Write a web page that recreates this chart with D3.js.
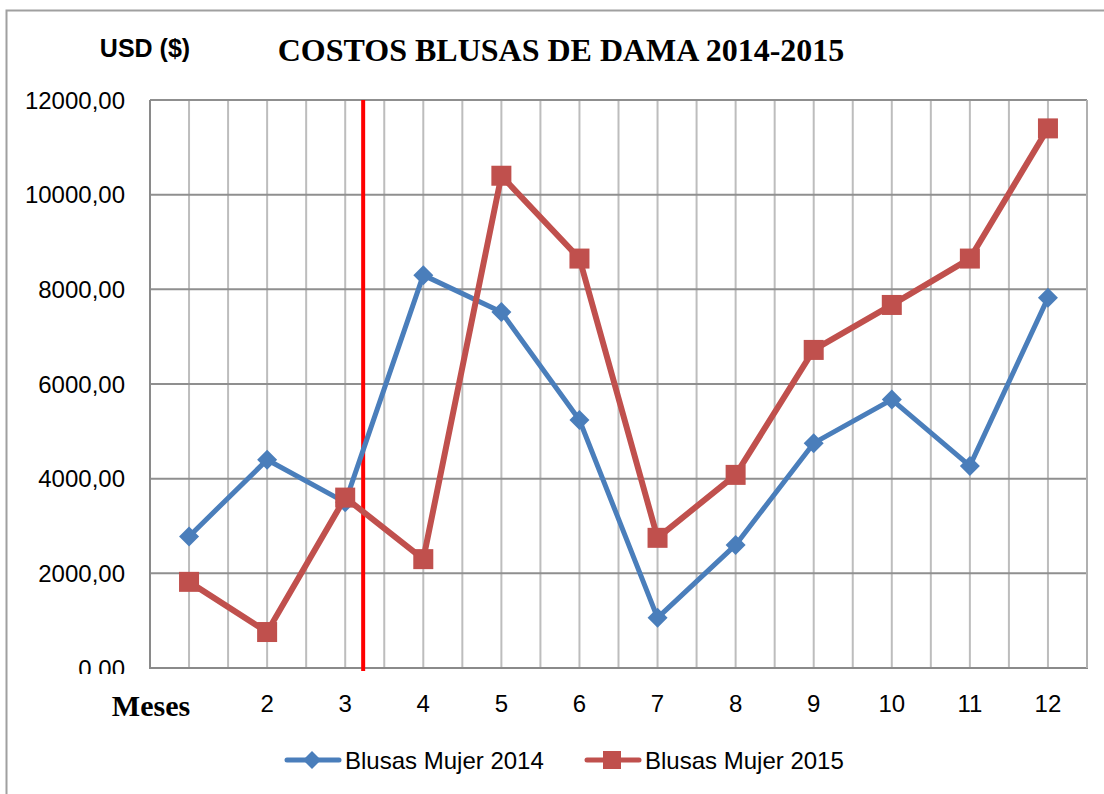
<!DOCTYPE html>
<html><head><meta charset="utf-8">
<script src="https://cdn.jsdelivr.net/npm/d3@7"></script>
<style>body{margin:0;background:#fff}svg{display:block}</style>
</head><body>
<svg id="c" width="1104" height="794"></svg>
<script>
const months = [1,2,3,4,5,6,7,8,9,10,11,12];
const monthLabels = ["","2","3","4","5","6","7","8","9","10","11","12"];
const serie2014 = [2780,4400,3500,8300,7520,5240,1060,2600,4750,5670,4270,7820];
const serie2015 = [1820,760,3600,2300,10400,8650,2750,4080,6720,7670,8650,11400];
const yTicks = [0,2000,4000,6000,8000,10000,12000];
const yTickLabels = ["0,00","2000,00","4000,00","6000,00","8000,00","10000,00","12000,00"];
const seriesNames = ["Blusas Mujer 2014","Blusas Mujer 2015"];
const markerLine = 3.23;

const svg = d3.select("#c");
const L=150,R=1087,T=100,B=668;
const x = d3.scaleLinear().domain([0.5,12.5]).range([L,R]);
const y = d3.scaleLinear().domain([0,12000]).range([B,T]);
const sans = "Liberation Sans, Arial, sans-serif";
const serif = "Liberation Serif, Times New Roman, serif";

// outer frame
svg.append("rect").attr("x",6.5).attr("y",10.5).attr("width",1200).attr("height",900)
  .attr("fill","none").attr("stroke","#a0a0a0").attr("stroke-width",2);

// vertical grid (every half category)
const vg = d3.range(0.5,12.51,0.5);
svg.append("g").selectAll("line").data(vg).join("line")
  .attr("x1",d=>x(d)).attr("x2",d=>x(d)).attr("y1",T).attr("y2",B)
  .attr("stroke","#bdbdbd").attr("stroke-width",2);
// horizontal grid
svg.append("g").selectAll("line").data(yTicks).join("line")
  .attr("x1",L).attr("x2",R).attr("y1",d=>y(d)).attr("y2",d=>y(d))
  .attr("stroke","#8f8f8f").attr("stroke-width",2);
// axes lines
svg.append("line").attr("x1",L).attr("x2",L).attr("y1",T).attr("y2",B).attr("stroke","#8a8a8a").attr("stroke-width",2);
svg.append("line").attr("x1",L-1).attr("x2",R+1).attr("y1",B).attr("y2",B).attr("stroke","#8a8a8a").attr("stroke-width",2);
svg.append("line").attr("x1",R).attr("x2",R).attr("y1",T).attr("y2",B).attr("stroke","#b0b0b0").attr("stroke-width",2);

// y labels
svg.append("defs").append("clipPath").attr("id","clipY").append("rect")
  .attr("x",0).attr("y",0).attr("width",140).attr("height",674);
svg.append("g").attr("clip-path","url(#clipY)").selectAll("text").data(yTicks).join("text")
  .attr("x",125).attr("y",d=>y(d)).attr("text-anchor","end").attr("dominant-baseline","central")
  .attr("font-family",sans).attr("font-size",24).attr("fill","#000")
  .text((d,i)=>yTickLabels[i]);
// x labels
svg.append("g").selectAll("text").data(months).join("text")
  .attr("x",d=>x(d)).attr("y",703).attr("text-anchor","middle").attr("dominant-baseline","central")
  .attr("font-family",sans).attr("font-size",24).attr("fill","#000")
  .text((d,i)=>monthLabels[i]);

svg.append("text").attr("x",151).attr("y",705).attr("text-anchor","middle").attr("dominant-baseline","central")
  .attr("font-family",serif).attr("font-weight","bold").attr("font-size",30)
  .text("Meses");
svg.append("text").attr("x",145).attr("y",48).attr("text-anchor","middle").attr("dominant-baseline","central")
  .attr("font-family",sans).attr("font-weight","bold").attr("font-size",25)
  .text("USD ($)");
svg.append("text").attr("x",561).attr("y",50).attr("text-anchor","middle").attr("dominant-baseline","central")
  .attr("font-family",serif).attr("font-weight","bold").attr("font-size",32)
  .text("COSTOS BLUSAS DE DAMA 2014-2015");

// red vertical marker
svg.append("line").attr("x1",x(markerLine)).attr("x2",x(markerLine)).attr("y1",T).attr("y2",B+3)
  .attr("stroke","#ff0000").attr("stroke-width",4);

const line = d3.line().x((d,i)=>x(months[i])).y(d=>y(d));
const blue="#4a7ebb", red="#c0504d";
svg.append("path").datum(serie2014).attr("d",line).attr("fill","none").attr("stroke",blue).attr("stroke-width",5).attr("stroke-linejoin","round");
svg.append("g").selectAll("path").data(serie2014).join("path")
  .attr("d","M0,-10L10,0L0,10L-10,0Z")
  .attr("transform",(d,i)=>`translate(${x(months[i])},${y(d)})`).attr("fill",blue);
svg.append("path").datum(serie2015).attr("d",line).attr("fill","none").attr("stroke",red).attr("stroke-width",6).attr("stroke-linejoin","round");
svg.append("g").selectAll("rect").data(serie2015).join("rect")
  .attr("x",(d,i)=>x(months[i])-10).attr("y",d=>y(d)-10).attr("width",20).attr("height",20).attr("fill",red);

// legend
const lg = svg.append("g");
lg.append("line").attr("x1",287).attr("x2",339).attr("y1",760).attr("y2",760).attr("stroke",blue).attr("stroke-width",5).attr("stroke-linecap","round");
lg.append("path").attr("d","M0,-9L9,0L0,9L-9,0Z").attr("transform","translate(312,760)").attr("fill",blue);
lg.append("text").attr("x",345).attr("y",760).attr("dominant-baseline","central")
  .attr("font-family",sans).attr("font-size",24).text(seriesNames[0]);
lg.append("line").attr("x1",587).attr("x2",639).attr("y1",760).attr("y2",760).attr("stroke",red).attr("stroke-width",5).attr("stroke-linecap","round");
lg.append("rect").attr("x",603).attr("y",751).attr("width",18).attr("height",18).attr("fill",red);
lg.append("text").attr("x",645).attr("y",760).attr("dominant-baseline","central")
  .attr("font-family",sans).attr("font-size",24).text(seriesNames[1]);
</script>
</body></html>
